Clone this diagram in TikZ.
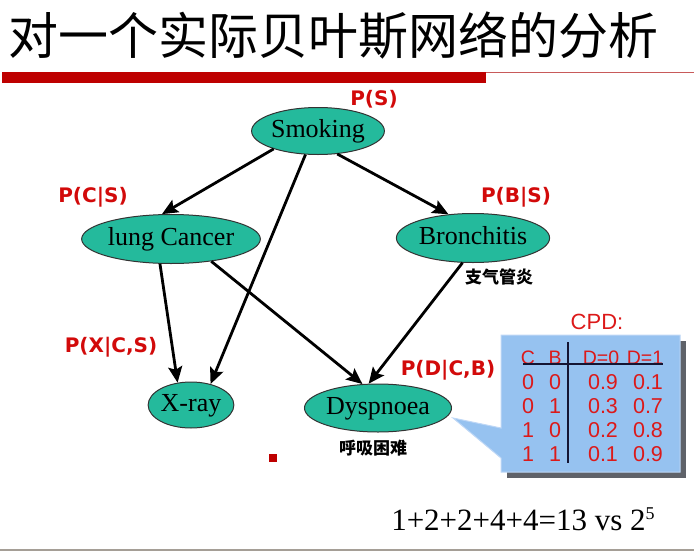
\documentclass[tikz,border=0pt]{standalone}
\usepackage{fontspec}
\usetikzlibrary{shapes.geometric,arrows.meta}
\newfontfamily\cjkfont{Noto Sans CJK SC}
\newfontfamily\labfont{DejaVu Sans}
\newfontfamily\serfont{Liberation Serif}
\newfontfamily\arlfont{Liberation Sans}
\definecolor{nodeteal}{RGB}{36,186,156}
\definecolor{labred}{RGB}{210,10,10}
\definecolor{cpdred}{RGB}{220,25,25}
\definecolor{barred}{RGB}{190,0,0}
\definecolor{barline}{RGB}{200,90,90}
\definecolor{cpdblue}{RGB}{150,194,240}
\definecolor{cpdedge}{RGB}{190,215,246}
\definecolor{shadowgray}{RGB}{95,98,105}
\definecolor{tabline}{RGB}{20,20,50}
\definecolor{footgray}{RGB}{165,158,150}
\begin{document}
\begin{tikzpicture}[x=1pt,y=-1pt,
  bn/.style={ellipse, draw=black!80, line width=1pt, fill=nodeteal, inner sep=0pt,
    text height=18pt, text depth=5pt, font={\serfont\fontsize{26}{30}\selectfont}},
  arr/.style={line width=2.8pt, -{Stealth[length=16pt,width=14pt,inset=3pt]}},
  plab/.style={text=labred, inner sep=0pt, font={\labfont\bfseries\fontsize{20}{24}\selectfont}},
  cnlab/.style={inner sep=0pt, font={\cjkfont\bfseries\fontsize{17}{19}\selectfont}},
  cpdtxt/.style={text=cpdred, inner sep=0pt, font={\arlfont\fontsize{21.5}{24}\selectfont}},
  cpdhead/.style={cpdtxt, font={\arlfont\fontsize{19.5}{24}\selectfont}},
]
\useasboundingbox (0,0) rectangle (694,552);
% title
\node[anchor=base west, inner sep=0pt, font={\cjkfont\fontsize{50}{58}\selectfont}] (title) at (8,54) {对一个实际贝叶斯网络的分析};
\fill[barred] (2,72) rectangle (486,83);
\draw[barline, line width=1pt] (486,72.5) -- (694,72.5);
% nodes
\node[bn, minimum width=112pt, minimum height=47pt] (smk) at (318,131) {Smoking};
\node[bn, minimum width=154pt, minimum height=49pt] (lc) at (171,239) {lung Cancer};
\node[bn, minimum width=136pt, minimum height=49pt] (br) at (473,238) {Bronchitis};
\node[bn, minimum width=82pt, minimum height=46pt] (xr) at (191,405) {X-ray};
\node[bn, minimum width=138pt, minimum height=48pt] (dy) at (378,408) {Dyspnoea};
% labels
\node[plab] (ps) at (374,99) {P(S)};
\node[plab] (pcs) at (93,197) {P(C|S)};
\node[plab] (pbs) at (516,197) {P(B|S)};
\node[plab] (pxcs) at (111,347) {P(X|C,S)};
\node[plab] (pdcb) at (448,370) {P(D|C,B)};
\node[cnlab] (zq) at (499,277) {支气管炎};
\node[cnlab] (hx) at (373,448) {呼吸困难};
\fill[barred] (269,454) rectangle (277,462);
% arrows
\draw[arr] (smk.-158) -- (lc.110);
\draw[arr] (smk.-118) -- (xr.47);
\draw[arr] (smk.-50) -- (br.136);
\draw[arr] (lc.-114) -- (xr.121);
\draw[arr] (lc.-29) -- (dy.123);
\draw[arr] (br.-113) -- (dy.111);
% CPD callout
\fill[shadowgray] (507,341) rectangle (686,478);
\filldraw[fill=cpdblue, draw=cpdedge, line width=1pt] (501,335) -- (680,335) -- (680,472) -- (501,472) -- (501,458) -- (453,418) -- (501,428) -- cycle;
\node[cpdtxt, font={\arlfont\fontsize{22}{24}\selectfont}] (cpd) at (597,322) {CPD:};
\node[cpdhead] (hc) at (528,358) {C};
\node[cpdhead] (hb) at (555,358) {B};
\node[cpdhead] (hd0) at (601,358) {D=0};
\node[cpdhead] (hd1) at (645,358) {D=1};
\foreach \cv/\bv/\pv/\qv [count=\i] in {0/0/0.9/0.1, 0/1/0.3/0.7, 1/0/0.2/0.8, 1/1/0.1/0.9} {
  \node[cpdtxt] (rc\i) at (528,{358+24*\i}) {\cv};
  \node[cpdtxt] (rb\i) at (555,{358+24*\i}) {\bv};
  \node[cpdtxt] (rp\i) at (603,{358+24*\i}) {\pv};
  \node[cpdtxt] (rq\i) at (648,{358+24*\i}) {\qv};
}
\draw[tabline, line width=1.6pt] (523,364) -- (663,364);
\draw[tabline, line width=1.6pt] (568,342) -- (568,463);
% formula
\node[inner sep=0pt, font={\serfont\fontsize{31}{36}\selectfont}] (sum) at (523,519) {1+2+2+4+4=13 vs 2{\fontsize{18}{20}\selectfont\raisebox{11pt}{5}}};
\draw[footgray, line width=2pt] (0,550) -- (694,550);
\end{tikzpicture}
\end{document}
